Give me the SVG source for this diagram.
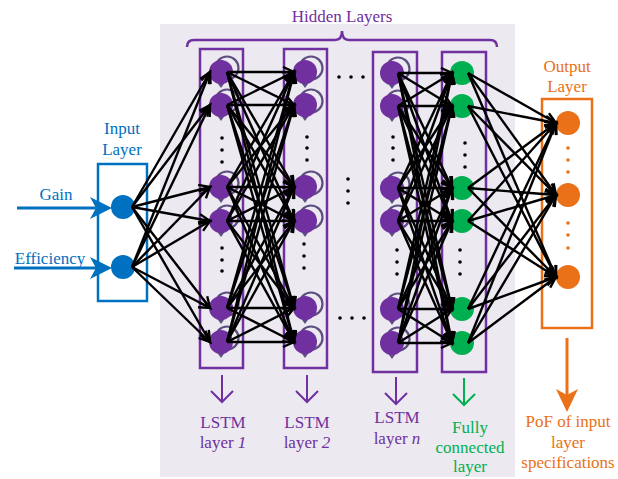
<svg xmlns="http://www.w3.org/2000/svg" width="618" height="479" viewBox="0 0 618 479">
<defs>
<style>
text{font-family:"Liberation Serif","Times New Roman",serif;font-size:17px;text-anchor:middle}
.pt{fill:#7030A0}.bt{fill:#0070C0}.gt{fill:#00B050}.ot{fill:#EA7118}
.pbox{fill:none;stroke:#7030A0;stroke-width:2.5}
.lstm{fill:#7030A0}.fc{fill:#00B050}.out{fill:#EA7118}.inp{fill:#0070C0}
.loop{fill:none;stroke:#5E4E80;stroke-width:2.2}
.lh{fill:#5E4E80}
.dot{fill:#000}
.odot{fill:#EA7118}
#connectors line{stroke:#000;stroke-width:2.4;marker-end:url(#ah)}
</style>
<marker id="ah" markerWidth="16" markerHeight="16" refX="12" refY="6" orient="auto" markerUnits="userSpaceOnUse">
<path d="M1,1 L12,6 L1,11" fill="none" stroke="#000" stroke-width="2.4"/>
</marker>
</defs>
<rect x="160" y="24" width="355" height="453" fill="#ECE9F1"/>
<path d="M187,47 Q187,40 194,40 L335,40 Q342,40 342,31 Q342,40 349,40 L490,40 Q497,40 497,47" fill="none" stroke="#7030A0" stroke-width="2.5"/>
<text x="342" y="22" class="pt">Hidden Layers</text>

<g id="input-layer">
<text x="122" y="134" class="bt">Input</text>
<text x="122" y="155" class="bt">Layer</text>
<rect x="98" y="164" width="49" height="137" fill="#fff" stroke="#0070C0" stroke-width="2.5"/>
<text x="56" y="200" class="bt">Gain</text>
<text x="50" y="264" class="bt">Efficiency</text>
<line x1="17" y1="208" x2="100" y2="208" stroke="#0070C0" stroke-width="3"/>
<polygon points="112,208 90,197 96,208 90,219" class="inp"/>
<line x1="14" y1="268" x2="100" y2="268" stroke="#0070C0" stroke-width="3"/>
<polygon points="112,268 90,257 96,268 90,279" class="inp"/>
<circle cx="123" cy="207" r="12" class="inp"/>
<circle cx="123" cy="267" r="12" class="inp"/>
</g>

<g id="lstm1">
<rect x="200" y="49" width="43" height="319" class="pbox"/>
<g class="loop"><circle cx="227" cy="68" r="11.5"/><circle cx="227" cy="101" r="11.5"/><circle cx="227" cy="183" r="11.5"/><circle cx="227" cy="217" r="11.5"/><circle cx="227" cy="304" r="11.5"/><circle cx="227" cy="338" r="11.5"/></g>
<g class="lh"><polygon points="216,81 226,81 221,88"/><polygon points="216,114 226,114 221,121"/><polygon points="216,196 226,196 221,203"/><polygon points="216,230 226,230 221,237"/><polygon points="216,317 226,317 221,324"/><polygon points="216,351 226,351 221,358"/></g>
<g class="lstm"><circle cx="221" cy="72" r="12"/><circle cx="221" cy="105" r="12"/><circle cx="221" cy="187" r="12"/><circle cx="221" cy="221" r="12"/><circle cx="221" cy="308" r="12"/><circle cx="221" cy="342" r="12"/></g>
<g class="dot"><circle cx="222" cy="138" r="1.8"/><circle cx="222" cy="150" r="1.8"/><circle cx="222" cy="162" r="1.8"/><circle cx="222" cy="248" r="1.8"/><circle cx="222" cy="260" r="1.8"/><circle cx="222" cy="271" r="1.8"/></g>
<line x1="222" y1="375" x2="222" y2="402" stroke="#7030A0" stroke-width="2"/>
<polyline points="211,391 222,402 233,391" fill="none" stroke="#7030A0" stroke-width="2"/>
<text x="223" y="428" class="pt">LSTM</text>
<text x="223" y="448" class="pt">layer <tspan font-style="italic">1</tspan></text>
</g>

<g id="lstm2">
<rect x="284" y="49" width="43" height="319" class="pbox"/>
<g class="loop"><circle cx="311" cy="68" r="11.5"/><circle cx="311" cy="101" r="11.5"/><circle cx="311" cy="183" r="11.5"/><circle cx="311" cy="217" r="11.5"/><circle cx="311" cy="304" r="11.5"/><circle cx="311" cy="338" r="11.5"/></g>
<g class="lh"><polygon points="300,81 310,81 305,88"/><polygon points="300,114 310,114 305,121"/><polygon points="300,196 310,196 305,203"/><polygon points="300,230 310,230 305,237"/><polygon points="300,317 310,317 305,324"/><polygon points="300,351 310,351 305,358"/></g>
<g class="lstm"><circle cx="305" cy="72" r="12"/><circle cx="305" cy="105" r="12"/><circle cx="305" cy="187" r="12"/><circle cx="305" cy="221" r="12"/><circle cx="305" cy="308" r="12"/><circle cx="305" cy="342" r="12"/></g>
<g class="dot"><circle cx="307" cy="137" r="1.8"/><circle cx="307" cy="148" r="1.8"/><circle cx="307" cy="160" r="1.8"/><circle cx="304" cy="244" r="1.8"/><circle cx="304" cy="256" r="1.8"/><circle cx="304" cy="268" r="1.8"/></g>
<line x1="307" y1="375" x2="307" y2="402" stroke="#7030A0" stroke-width="2"/>
<polyline points="296,391 307,402 318,391" fill="none" stroke="#7030A0" stroke-width="2"/>
<text x="307" y="428" class="pt">LSTM</text>
<text x="307" y="448" class="pt">layer <tspan font-style="italic">2</tspan></text>
</g>

<g id="ellipsis" class="dot">
<circle cx="339" cy="77" r="1.8"/><circle cx="351" cy="77" r="1.8"/><circle cx="363" cy="77" r="1.8"/>
<circle cx="348" cy="179" r="1.8"/><circle cx="348" cy="191" r="1.8"/><circle cx="348" cy="203" r="1.8"/>
<circle cx="340" cy="318" r="1.8"/><circle cx="352" cy="318" r="1.8"/><circle cx="364" cy="318" r="1.8"/>
</g>

<g id="lstmn">
<rect x="373" y="52" width="44" height="320" class="pbox"/>
<g class="loop"><circle cx="398" cy="69" r="11.5"/><circle cx="398" cy="102" r="11.5"/><circle cx="398" cy="184" r="11.5"/><circle cx="398" cy="217" r="11.5"/><circle cx="398" cy="305" r="11.5"/><circle cx="398" cy="339" r="11.5"/></g>
<g class="lh"><polygon points="387,82 397,82 392,89"/><polygon points="387,115 397,115 392,122"/><polygon points="387,197 397,197 392,204"/><polygon points="387,230 397,230 392,237"/><polygon points="387,318 397,318 392,325"/><polygon points="387,352 397,352 392,359"/></g>
<g class="lstm"><circle cx="392" cy="73" r="12"/><circle cx="392" cy="106" r="12"/><circle cx="392" cy="188" r="12"/><circle cx="392" cy="221" r="12"/><circle cx="392" cy="309" r="12"/><circle cx="392" cy="343" r="12"/></g>
<g class="dot"><circle cx="393" cy="137" r="1.8"/><circle cx="393" cy="148" r="1.8"/><circle cx="393" cy="160" r="1.8"/><circle cx="397" cy="250" r="1.8"/><circle cx="397" cy="262" r="1.8"/><circle cx="397" cy="274" r="1.8"/></g>
<line x1="396" y1="377" x2="396" y2="404" stroke="#7030A0" stroke-width="2"/>
<polyline points="385,393 396,404 407,393" fill="none" stroke="#7030A0" stroke-width="2"/>
<text x="397" y="423" class="pt">LSTM</text>
<text x="397" y="444" class="pt">layer <tspan font-style="italic">n</tspan></text>
</g>

<g id="fully-connected">
<rect x="442" y="52" width="44" height="320" class="pbox"/>
<g class="fc"><circle cx="462" cy="73" r="12"/><circle cx="462" cy="106" r="12"/><circle cx="462" cy="188" r="12"/><circle cx="462" cy="221" r="12"/><circle cx="462" cy="309" r="12"/><circle cx="462" cy="343" r="12"/></g>
<g class="dot"><circle cx="465" cy="143" r="1.8"/><circle cx="465" cy="155" r="1.8"/><circle cx="465" cy="167" r="1.8"/><circle cx="460" cy="250" r="1.8"/><circle cx="460" cy="262" r="1.8"/><circle cx="460" cy="274" r="1.8"/></g>
<line x1="464" y1="378" x2="464" y2="405" stroke="#00B050" stroke-width="2"/>
<polyline points="453,394 464,405 475,394" fill="none" stroke="#00B050" stroke-width="2"/>
<text x="470" y="433" class="gt">Fully</text>
<text x="470" y="453" class="gt">connected</text>
<text x="470" y="472" class="gt">layer</text>
</g>

<g id="output-layer">
<text x="567" y="72" class="ot">Output</text>
<text x="567" y="92" class="ot">Layer</text>
<rect x="542" y="99" width="50" height="229" fill="#fff" stroke="#EA7118" stroke-width="2.5"/>
<g class="out"><circle cx="568" cy="123" r="12"/><circle cx="568" cy="195" r="12"/><circle cx="568" cy="277" r="12"/></g>
<g class="odot"><circle cx="568" cy="148" r="1.8"/><circle cx="568" cy="160" r="1.8"/><circle cx="568" cy="172" r="1.8"/><circle cx="568" cy="223" r="1.8"/><circle cx="568" cy="235" r="1.8"/><circle cx="568" cy="248" r="1.8"/></g>
<line x1="567" y1="338" x2="567" y2="396" stroke="#EA7118" stroke-width="3"/>
<polygon points="567,412 556,389 567,395 578,389" class="out"/>
<text x="568" y="427" class="ot">PoF of input</text>
<text x="568" y="448" class="ot">layer</text>
<text x="568" y="468" class="ot">specifications</text>
</g>

<g id="connectors">
<line x1="132" y1="207" x2="210" y2="72"/><line x1="132" y1="207" x2="210" y2="105"/><line x1="132" y1="207" x2="210" y2="187"/><line x1="132" y1="207" x2="210" y2="221"/><line x1="132" y1="207" x2="210" y2="308"/><line x1="132" y1="207" x2="210" y2="342"/>
<line x1="132" y1="267" x2="210" y2="72"/><line x1="132" y1="267" x2="210" y2="105"/><line x1="132" y1="267" x2="210" y2="187"/><line x1="132" y1="267" x2="210" y2="221"/><line x1="132" y1="267" x2="210" y2="308"/><line x1="132" y1="267" x2="210" y2="342"/>

<line x1="227" y1="72" x2="294" y2="72"/><line x1="227" y1="72" x2="294" y2="105"/><line x1="227" y1="72" x2="294" y2="187"/><line x1="227" y1="72" x2="294" y2="221"/><line x1="227" y1="72" x2="294" y2="308"/><line x1="227" y1="72" x2="294" y2="342"/>
<line x1="227" y1="105" x2="294" y2="72"/><line x1="227" y1="105" x2="294" y2="105"/><line x1="227" y1="105" x2="294" y2="187"/><line x1="227" y1="105" x2="294" y2="221"/><line x1="227" y1="105" x2="294" y2="308"/><line x1="227" y1="105" x2="294" y2="342"/>
<line x1="227" y1="187" x2="294" y2="72"/><line x1="227" y1="187" x2="294" y2="105"/><line x1="227" y1="187" x2="294" y2="187"/><line x1="227" y1="187" x2="294" y2="221"/><line x1="227" y1="187" x2="294" y2="308"/><line x1="227" y1="187" x2="294" y2="342"/>
<line x1="227" y1="221" x2="294" y2="72"/><line x1="227" y1="221" x2="294" y2="105"/><line x1="227" y1="221" x2="294" y2="187"/><line x1="227" y1="221" x2="294" y2="221"/><line x1="227" y1="221" x2="294" y2="308"/><line x1="227" y1="221" x2="294" y2="342"/>
<line x1="227" y1="308" x2="294" y2="72"/><line x1="227" y1="308" x2="294" y2="105"/><line x1="227" y1="308" x2="294" y2="187"/><line x1="227" y1="308" x2="294" y2="221"/><line x1="227" y1="308" x2="294" y2="308"/><line x1="227" y1="308" x2="294" y2="342"/>
<line x1="227" y1="342" x2="294" y2="72"/><line x1="227" y1="342" x2="294" y2="105"/><line x1="227" y1="342" x2="294" y2="187"/><line x1="227" y1="342" x2="294" y2="221"/><line x1="227" y1="342" x2="294" y2="308"/><line x1="227" y1="342" x2="294" y2="342"/>

<line x1="398" y1="73" x2="452" y2="73"/><line x1="398" y1="73" x2="452" y2="106"/><line x1="398" y1="73" x2="452" y2="188"/><line x1="398" y1="73" x2="452" y2="221"/><line x1="398" y1="73" x2="452" y2="309"/><line x1="398" y1="73" x2="452" y2="343"/>
<line x1="398" y1="106" x2="452" y2="73"/><line x1="398" y1="106" x2="452" y2="106"/><line x1="398" y1="106" x2="452" y2="188"/><line x1="398" y1="106" x2="452" y2="221"/><line x1="398" y1="106" x2="452" y2="309"/><line x1="398" y1="106" x2="452" y2="343"/>
<line x1="398" y1="188" x2="452" y2="73"/><line x1="398" y1="188" x2="452" y2="106"/><line x1="398" y1="188" x2="452" y2="188"/><line x1="398" y1="188" x2="452" y2="221"/><line x1="398" y1="188" x2="452" y2="309"/><line x1="398" y1="188" x2="452" y2="343"/>
<line x1="398" y1="221" x2="452" y2="73"/><line x1="398" y1="221" x2="452" y2="106"/><line x1="398" y1="221" x2="452" y2="188"/><line x1="398" y1="221" x2="452" y2="221"/><line x1="398" y1="221" x2="452" y2="309"/><line x1="398" y1="221" x2="452" y2="343"/>
<line x1="398" y1="309" x2="452" y2="73"/><line x1="398" y1="309" x2="452" y2="106"/><line x1="398" y1="309" x2="452" y2="188"/><line x1="398" y1="309" x2="452" y2="221"/><line x1="398" y1="309" x2="452" y2="309"/><line x1="398" y1="309" x2="452" y2="343"/>
<line x1="398" y1="343" x2="452" y2="73"/><line x1="398" y1="343" x2="452" y2="106"/><line x1="398" y1="343" x2="452" y2="188"/><line x1="398" y1="343" x2="452" y2="221"/><line x1="398" y1="343" x2="452" y2="309"/><line x1="398" y1="343" x2="452" y2="343"/>

<line x1="468" y1="73" x2="556" y2="123"/><line x1="468" y1="73" x2="556" y2="195"/><line x1="468" y1="73" x2="556" y2="277"/>
<line x1="468" y1="106" x2="556" y2="123"/><line x1="468" y1="106" x2="556" y2="195"/><line x1="468" y1="106" x2="556" y2="277"/>
<line x1="468" y1="188" x2="556" y2="123"/><line x1="468" y1="188" x2="556" y2="195"/><line x1="468" y1="188" x2="556" y2="277"/>
<line x1="468" y1="221" x2="556" y2="123"/><line x1="468" y1="221" x2="556" y2="195"/><line x1="468" y1="221" x2="556" y2="277"/>
<line x1="468" y1="309" x2="556" y2="123"/><line x1="468" y1="309" x2="556" y2="195"/><line x1="468" y1="309" x2="556" y2="277"/>
<line x1="468" y1="343" x2="556" y2="123"/><line x1="468" y1="343" x2="556" y2="195"/><line x1="468" y1="343" x2="556" y2="277"/>
</g>
</svg>
